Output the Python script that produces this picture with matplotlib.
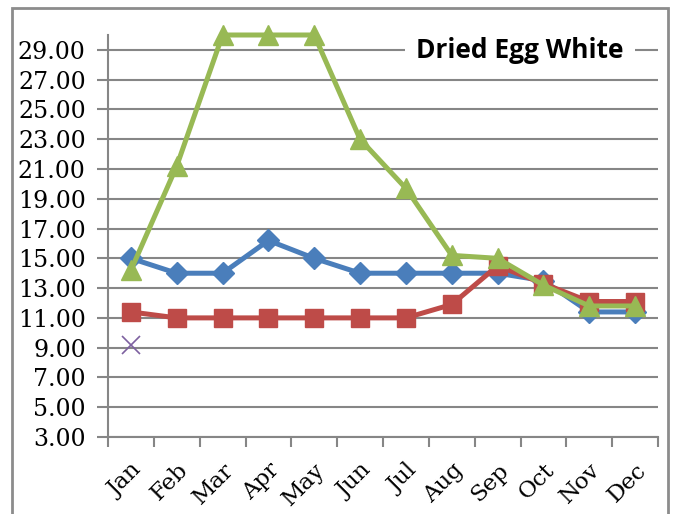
import matplotlib
matplotlib.use("Agg")
import matplotlib.pyplot as plt
from matplotlib.patches import Rectangle
import numpy as np

months = ["Jan", "Feb", "Mar", "Apr", "May", "Jun", "Jul", "Aug", "Sep", "Oct", "Nov", "Dec"]
blue_vals = [15.0, 14.0, 14.0, 16.2, 15.0, 14.0, 14.0, 14.0, 14.0, 13.5, 11.4, 11.4]
red_vals = [11.4, 11.0, 11.0, 11.0, 11.0, 11.0, 11.0, 11.9, 14.5, 13.3, 12.1, 12.1]
green_vals = [14.2, 21.2, 30.0, 30.0, 30.0, 23.0, 19.7, 15.2, 15.0, 13.2, 11.8, 11.8]
purple_vals = [9.2] + [np.nan] * 11
y_ticks = [3, 5, 7, 9, 11, 13, 15, 17, 19, 21, 23, 25, 27, 29]
title = "Dried Egg White"

grid_color = "#868686"

fig = plt.figure(figsize=(6.73, 5.14), dpi=100)
ax = fig.add_axes([108 / 673, 1 - 437 / 514, 550 / 673, 402 / 514])

x = np.arange(len(months)) + 0.5
ax.plot(x, blue_vals, color="#4A7EBB", lw=3.6, marker="D", ms=11, zorder=3, clip_on=False)
ax.plot(x, red_vals, color="#BE4B48", lw=3.6, marker="s", ms=13, zorder=4, clip_on=False)
ax.plot(x, green_vals, color="#98B954", lw=3.6, marker="^", ms=14, zorder=5, clip_on=False)
ax.plot(x, purple_vals, color="#7D60A0", lw=0, marker="x", ms=13, mew=1.2, zorder=6)

ax.set_xlim(0, 12)
ax.set_ylim(3, 30)
ax.set_yticks(y_ticks)
ax.set_yticklabels([f"{v:.2f}" for v in y_ticks], fontsize=17, family="DejaVu Serif")
ax.yaxis.grid(True, color=grid_color, lw=1.5)
ax.set_axisbelow(True)

ax.set_xticks(np.arange(13))
ax.set_xticklabels([])
ax.set_xticks(x, minor=True)
ax.set_xticklabels(months, minor=True, rotation=45, ha="right", va="top",
                   rotation_mode="anchor", fontsize=16.5, family="DejaVu Serif")
ax.tick_params(axis="x", which="minor", length=0, pad=16)
ax.tick_params(axis="x", which="major", length=7, width=1.5, color=grid_color)
ax.tick_params(axis="y", length=8, width=1.5, color=grid_color, pad=8)

for side in ["top", "right"]:
    ax.spines[side].set_visible(False)
for side in ["left", "bottom"]:
    ax.spines[side].set_color(grid_color)
    ax.spines[side].set_linewidth(1.5)

fig.text(520 / 673, 1 - 50 / 514, title, ha="center", va="center", fontsize=19,
         fontweight="bold", family="Open Sans",
         bbox=dict(facecolor="white", edgecolor="none", pad=8), zorder=10)

fig.patches.append(Rectangle((12 / 673, -0.1), 656 / 673, 1.1 - 8 / 514,
                             transform=fig.transFigure, fill=False,
                             edgecolor="#8c8c8c", lw=2))

fig.savefig("out.png", dpi=100)
